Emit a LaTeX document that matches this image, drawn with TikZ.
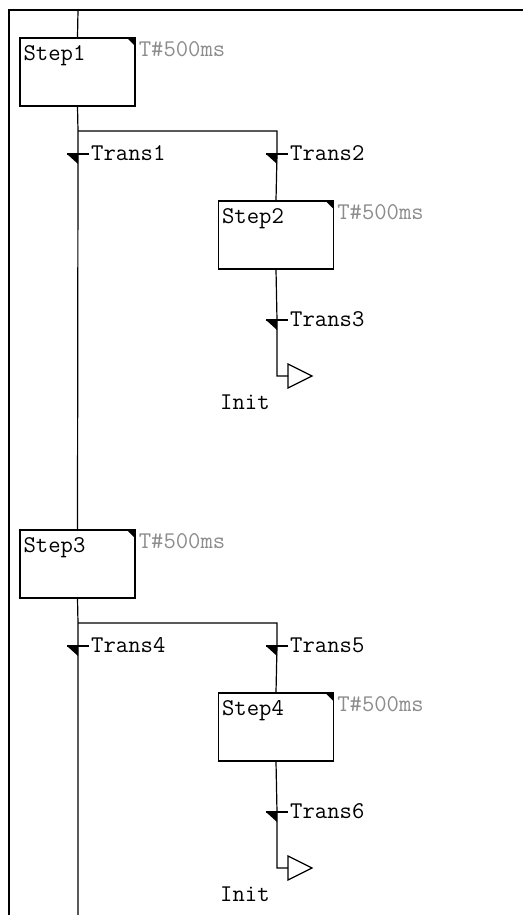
\documentclass[tikz,border=0pt]{standalone}
\usepackage{fontspec}
\usetikzlibrary{calc, positioning}

\tikzset{
  stepbox/.style={draw, line width=1.2pt, minimum width=115pt, minimum height=68pt,
    inner sep=0pt,
    path picture={\fill (path picture bounding box.north east) -- ++(-8pt,0pt) -- ++(8pt,-8pt) -- cycle;}},
  sfctext/.style={inner sep=0pt, anchor=base west, font=\ttfamily\fontsize{24}{24}\selectfont},
  timetext/.style={sfctext, text=black!45},
  wire/.style={line width=1.2pt},
}

\begin{document}
\begin{tikzpicture}[x=1pt, y=-1pt]
  \useasboundingbox (0,0) rectangle (523,915);
  % window frame
  \draw[line width=1.5pt] (9,915) -- (9,10) -- (523,10);

  % ---- first sequence
  \coordinate (top) at (78,10);
  \node[stepbox] (s1) at (77.5,72) {};
  \node[sfctext] (s1name) at ($(s1.north west)+(4,23)$) {Step1};
  \node[timetext] (s1time) at ($(s1.north east)+(3,19)$) {T\#500ms};
  \coordinate (b1) at (78,131);
  \coordinate (b1r) at (277,131);
  \coordinate (t1) at (78,154);
  \coordinate (t2) at (277,154);
  \node[stepbox] (s2) at (276,235) {};
  \node[sfctext] (s2name) at ($(s2.north west)+(4,23)$) {Step2};
  \node[timetext] (s2time) at ($(s2.north east)+(3,19)$) {T\#500ms};
  \coordinate (t3) at (277,320);
  \coordinate (j1) at (277,376);
  \coordinate (j1a) at (288,376);
  \node[sfctext] (init1) at ($(j1)+(-57,33)$) {Init};

  % ---- second sequence
  \node[stepbox] (s3) at (77.5,564) {};
  \node[sfctext] (s3name) at ($(s3.north west)+(4,23)$) {Step3};
  \node[timetext] (s3time) at ($(s3.north east)+(3,19)$) {T\#500ms};
  \coordinate (b2) at (78,623);
  \coordinate (b2r) at (277,623);
  \coordinate (t4) at (78,646);
  \coordinate (t5) at (277,646);
  \node[stepbox] (s4) at (276,727) {};
  \node[sfctext] (s4name) at ($(s4.north west)+(4,23)$) {Step4};
  \node[timetext] (s4time) at ($(s4.north east)+(3,19)$) {T\#500ms};
  \coordinate (t6) at (277,812);
  \coordinate (j2) at (277,868);
  \coordinate (j2a) at (288,868);
  \node[sfctext] (init2) at ($(j2)+(-57,33)$) {Init};
  \coordinate (bot) at (78,915);

  % links
  \draw[wire] (top) -- (s1.north);
  \draw[wire] (s1.south) -- (b1) -- (t1) -- (s3.north);
  \draw[wire] (b1) -- (b1r) -- (t2) -- (s2.north);
  \draw[wire] (s2.south) -- (t3) -- (j1) -- (j1a);
  \draw[wire] (s3.south) -- (b2) -- (t4) -- (bot);
  \draw[wire] (b2) -- (b2r) -- (t5) -- (s4.north);
  \draw[wire] (s4.south) -- (t6) -- (j2) -- (j2a);

  % jumps
  \draw[wire] (j1a) -- ++(0,-12) -- ++(24,12) -- ++(-24,12) -- cycle;
  \draw[wire] (j2a) -- ++(0,-12) -- ++(24,12) -- ++(-24,12) -- cycle;

  % transitions
  \foreach \t/\n in {t1/1, t2/2, t3/3, t4/4, t5/5, t6/6} {
    \draw[wire] ($(\t)+(-11,0)$) -- ($(\t)+(11,0)$);
    \fill ($(\t)+(-11,0)$) -- (\t) -- ($(\t)+(0,10)$) -- cycle;
    \node[sfctext] (trans\n) at ($(\t)+(13,6)$) {Trans\n};
  }
\end{tikzpicture}
\end{document}
